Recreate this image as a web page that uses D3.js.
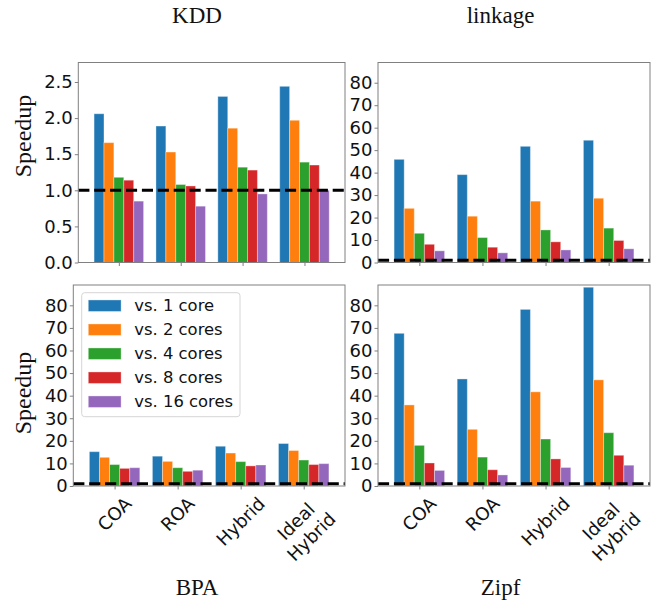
<!DOCTYPE html>
<html>
<head>
<meta charset="utf-8">
<script src="https://cdn.jsdelivr.net/npm/d3@7"></script>
<style>
  body { margin: 0; background: #fff; }
  svg { display: block; }
  .tick text { font-family: "DejaVu Sans", sans-serif; }
  .serif { font-family: "Liberation Serif", "DejaVu Serif", serif; }
</style>
</head>
<body>
<div id="chart"></div>
<script>
// categories and series
const categories = ["COA", "ROA", "Hybrid", "Ideal\nHybrid"];
const seriesNames = ["vs. 1 core", "vs. 2 cores", "vs. 4 cores", "vs. 8 cores", "vs. 16 cores"];
const colors = ["#1f77b4", "#ff7f0e", "#2ca02c", "#d62728", "#9467bd"];

// one row per series, one value per category
const kddSpeedup = [
	[2.06, 1.89, 2.30, 2.44],
	[1.66, 1.53, 1.86, 1.97],
	[1.18, 1.08, 1.32, 1.39],
	[1.14, 1.06, 1.28, 1.35],
	[0.85, 0.78, 0.95, 1.00]
];
const linkageSpeedup = [
	[45.9, 39.1, 51.7, 54.4],
	[24.1, 20.6, 27.3, 28.6],
	[13.0, 11.1, 14.5, 15.3],
	[8.1, 6.8, 9.2, 9.8],
	[5.2, 4.3, 5.6, 6.1]
];
const bpaSpeedup = [
	[15.2, 13.2, 17.6, 18.8],
	[12.7, 10.9, 14.6, 15.7],
	[9.5, 8.1, 10.8, 11.5],
	[7.8, 6.5, 8.9, 9.5],
	[8.1, 7.0, 9.3, 9.9]
];
const zipfSpeedup = [
	[67.6, 47.4, 78.2, 88.0],
	[35.9, 25.1, 41.7, 47.0],
	[18.0, 12.8, 20.8, 23.6],
	[10.2, 7.2, 12.0, 13.6],
	[6.9, 4.9, 8.2, 9.2]
];

const kddTicks = [0, 0.5, 1.0, 1.5, 2.0, 2.5];
const speedTicks = [0, 10, 20, 30, 40, 50, 60, 70, 80];
const baseline = 1;

const W = 670, H = 602;
const svg = d3.select("#chart").append("svg")
	.attr("width", W)
	.attr("height", H);

const panels = [
	{ name: "KDD", data: kddSpeedup, x0: 78.3, x1: 345, y0: 62.5, y1: 262.5, yMax: 2.77, ticks: kddTicks, fmt: d3.format(".1f"), ylabel: 136, legend: false, xlabels: false, titleY: 22.7 },
	{ name: "linkage", data: linkageSpeedup, x0: 378, x1: 650, y0: 62.5, y1: 262.5, yMax: 89, ticks: speedTicks, fmt: d3.format("d"), ylabel: null, legend: false, xlabels: false, titleY: 22.7 },
	{ name: "BPA", data: bpaSpeedup, x0: 73.3, x1: 345, y0: 285, y1: 486, yMax: 89, ticks: speedTicks, fmt: d3.format("d"), ylabel: 393, legend: true, xlabels: true, titleY: 595 },
	{ name: "Zipf", data: zipfSpeedup, x0: 378, x1: 650, y0: 285, y1: 486, yMax: 89, ticks: speedTicks, fmt: d3.format("d"), ylabel: null, legend: false, xlabels: true, titleY: 595 }
];
const titleX = [197, 500.5];

const barW = 0.16;
const fs = 18;

panels.forEach((p, pi) => {
	const x = d3.scaleLinear().domain([-0.655, 3.655]).range([p.x0, p.x1]);
	const y = d3.scaleLinear().domain([0, p.yMax]).range([p.y1, p.y0]);
	const g = svg.append("g");

	// bars
	p.data.forEach((vals, si) => {
		g.append("g")
			.selectAll("rect")
			.data(vals)
			.join("rect")
				.attr("x", (d, i) => x(i + (si - 2) * barW - barW / 2))
				.attr("width", x(barW) - x(0))
				.attr("y", d => y(d))
				.attr("height", d => y(0) - y(d))
				.attr("fill", colors[si])
				.attr("stroke", "#fff")
				.attr("stroke-opacity", 0.35)
				.attr("stroke-width", 1);
	});

	// dashed line at speedup 1
	g.append("line")
		.attr("x1", p.x0).attr("x2", p.x1)
		.attr("y1", y(baseline)).attr("y2", y(baseline))
		.attr("stroke", "#000")
		.attr("stroke-width", 3)
		.attr("stroke-dasharray", "11.1,4.8");

	// y axis
	const yAxis = g.append("g")
		.attr("transform", "translate(" + p.x0 + ",0)")
		.call(d3.axisLeft(y).tickValues(p.ticks).tickFormat(p.fmt).tickSize(3.5).tickPadding(2));
	yAxis.select(".domain").remove();
	yAxis.selectAll("line").attr("stroke", "#808080");
	yAxis.selectAll("text").style("font-size", fs + "px").attr("fill", "#111");

	// x axis ticks
	const xAxis = g.append("g")
		.attr("transform", "translate(0," + p.y1 + ")")
		.call(d3.axisBottom(x).tickValues(d3.range(categories.length)).tickSize(3.5).tickFormat(""));
	xAxis.select(".domain").remove();
	xAxis.selectAll("line").attr("stroke", "#808080");

	// frame
	g.append("rect")
		.attr("x", p.x0).attr("y", p.y0)
		.attr("width", p.x1 - p.x0).attr("height", p.y1 - p.y0)
		.attr("fill", "none")
		.attr("stroke", "#808080")
		.attr("stroke-width", 1);

	// rotated category labels
	if (p.xlabels) {
		const top = p.y1 + 7;
		categories.forEach((c, i) => {
			const lines = c.split("\n");
			const lg = g.append("g");
			const t = lg.append("text")
				.attr("text-anchor", "middle")
				.style("font-family", "DejaVu Sans, sans-serif")
				.style("font-size", fs + "px")
				.attr("fill", "#111");
			lines.forEach((ln, li) => {
				t.append("tspan")
					.attr("x", 0)
					.attr("y", (li - (lines.length - 1) / 2) * 1.2 * fs)
					.attr("dy", "0.35em")
					.text(ln);
			});
			let w = 0;
			t.selectAll("tspan").each(function() { w = Math.max(w, this.getComputedTextLength()); });
			const h = fs * (1.2 * (lines.length - 1) + 1.16);
			const side = (w + h) * Math.SQRT1_2;
			lg.attr("transform", "translate(" + x(i) + "," + (top + side / 2) + ") rotate(-45)");
		});
	}

	// ylabel
	if (p.ylabel !== null) {
		svg.append("text")
			.attr("class", "serif")
			.attr("transform", "translate(31," + p.ylabel + ") rotate(-90)")
			.attr("text-anchor", "middle")
			.style("font-size", "24px")
			.attr("fill", "#111")
			.text("Speedup");
	}

	// title
	svg.append("text")
		.attr("class", "serif")
		.attr("x", titleX[pi % 2])
		.attr("y", p.titleY)
		.attr("text-anchor", "middle")
		.style("font-size", "23px")
		.attr("fill", "#111")
		.text(p.name);

	// legend
	if (p.legend) {
		const lfs = 16.4;
		const leg = g.append("g");
		leg.append("rect")
			.attr("x", 81.7).attr("y", 292.7)
			.attr("width", 158.3).attr("height", 124)
			.attr("rx", 3).attr("ry", 3)
			.attr("fill", "#fff").attr("fill-opacity", 0.8)
			.attr("stroke", "#d6d6d6").attr("stroke-width", 1);
		const items = leg.selectAll("g.item")
			.data(seriesNames)
			.join("g")
				.attr("class", "item")
				.attr("transform", (d, i) => "translate(88.3," + (305.7 + i * 24) + ")");
		items.append("rect")
			.attr("x", 0).attr("y", -5.75)
			.attr("width", 32.8).attr("height", 11.5)
			.attr("fill", (d, i) => colors[i])
			.attr("stroke", "#fff").attr("stroke-opacity", 0.35);
		items.append("text")
			.attr("x", 46)
			.attr("dy", "0.35em")
			.style("font-family", "DejaVu Sans, sans-serif")
			.style("font-size", lfs + "px")
			.attr("fill", "#111")
			.text(d => d);
	}
});
</script>
</body>
</html>
